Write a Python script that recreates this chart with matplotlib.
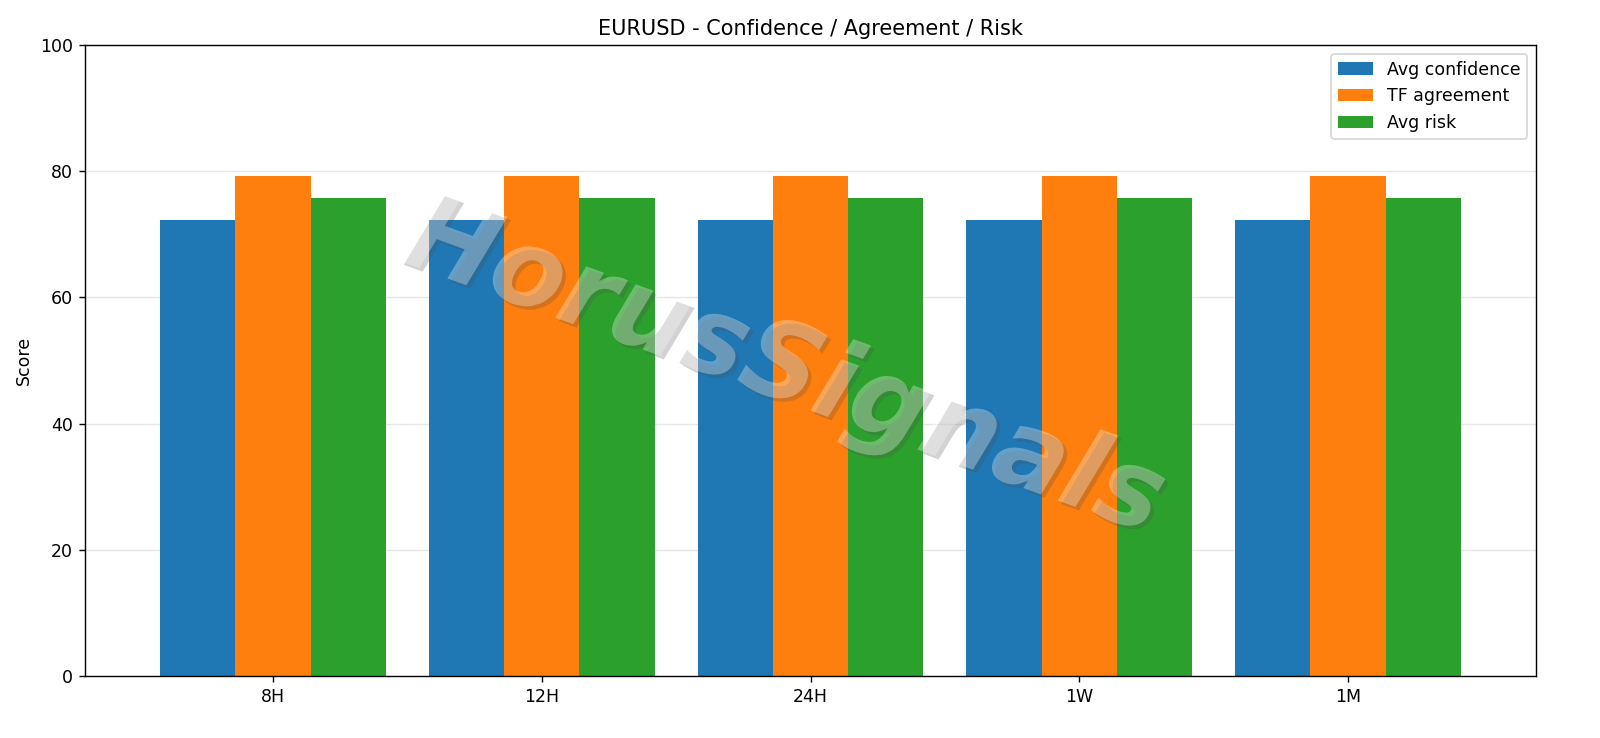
import numpy as np
import matplotlib
matplotlib.use("Agg")
import matplotlib.pyplot as plt
import matplotlib.patheffects as pe

timeframes = ["8H", "12H", "24H", "1W", "1M"]
avg_confidence = [72.3, 72.3, 72.3, 72.3, 72.3]
tf_agreement = [79.2, 79.2, 79.2, 79.2, 79.2]
avg_risk = [75.8, 75.8, 75.8, 75.8, 75.8]

fig = plt.figure(figsize=(12.8, 5.904), dpi=125)
ax = fig.add_axes([85/1600, 1-676/738, (1536-85)/1600, (676-45)/738])
x = np.arange(len(timeframes))
w = 0.28
ax.bar(x - w, avg_confidence, w, label="Avg confidence", color="#1f77b4")
ax.bar(x, tf_agreement, w, label="TF agreement", color="#ff7f0e")
ax.bar(x + w, avg_risk, w, label="Avg risk", color="#2ca02c")
ax.set_xticks(x)
ax.set_xticklabels(timeframes)
ax.set_ylim(0, 100)
ax.set_xlim(-0.7, len(timeframes) - 0.3)
ax.set_ylabel("Score")
ax.set_title("EURUSD - Confidence / Agreement / Risk")
ax.grid(axis="y", alpha=0.3)
ax.set_axisbelow(True)
ax.legend(loc="upper right")

fig.text(0.49, 0.5, "HorusSignals", fontsize=62, color="white", alpha=0.3,
         rotation=-20, ha="center", va="center", style="italic", fontweight="bold",
         path_effects=[pe.withSimplePatchShadow(offset=(2, -2), alpha=0.25)])

fig.savefig("out.png", dpi=125)
